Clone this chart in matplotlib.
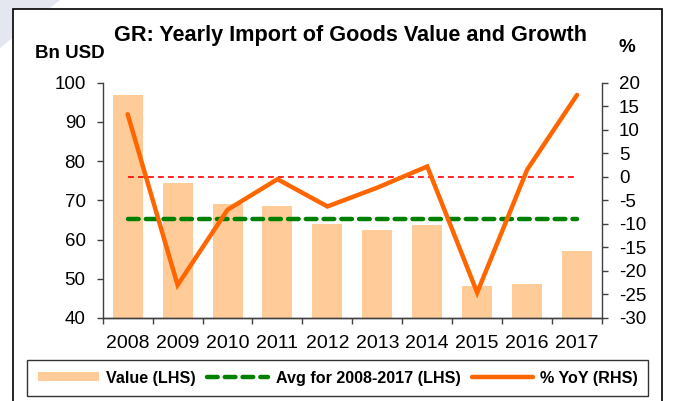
# -*- coding: utf-8 -*-

'''
GR yearly import of goods - value (LHS) and % YoY (RHS)
'''

import numpy as np
import matplotlib
matplotlib.use('Agg')
import matplotlib.pyplot as plt
from matplotlib.patches import Polygon, Rectangle

################################################################################

years = ['2008', '2009', '2010', '2011', '2012', '2013', '2014', '2015', '2016', '2017']
value_bn_usd = [96.8, 74.4, 69.0, 68.5, 64.0, 62.4, 63.7, 48.1, 48.7, 57.1]
yoy_pct = [13.3, -23.0, -7.0, -0.5, -6.3, -2.3, 2.2, -24.6, 1.5, 17.4]

lhs_ticks = [40, 50, 60, 70, 80, 90, 100]
rhs_ticks = [-30, -25, -20, -15, -10, -5, 0, 5, 10, 15, 20]

title = 'GR: Yearly Import of Goods Value and Growth'

################################################################################

plt.rcParams['font.family'] = ['Liberation Sans', 'DejaVu Sans']
plt.rcParams['axes.unicode_minus'] = False

W, H = 673, 401
fig = plt.figure(figsize=(W / 100, H / 100), dpi=100)

# faint watermark in the top left corner
fig.patches.append(Polygon([[0, 1], [60 / W, 1], [0, 1 - 48 / H]], closed=True,
                           transform=fig.transFigure, facecolor='#E4E6F0',
                           edgecolor='none', zorder=0))
# outer frame
fig.patches.append(Rectangle((13 / W, -0.05), (662 - 13) / W, 1.05 - 8.5 / H,
                             transform=fig.transFigure, facecolor='white',
                             edgecolor='black', linewidth=1.2, zorder=1))

ax = fig.add_axes([102.7 / W, 1 - 318 / H, (602 - 102.7) / W, (318 - 82.7) / H])
ax.set_zorder(2)
ax.patch.set_visible(False)
ax2 = ax.twinx()

x = np.arange(len(years))
avg = np.mean(value_bn_usd)

bars = ax.bar(x, value_bn_usd, width=0.6, color='#FFCC99', zorder=2,
              label='Value (LHS)')
avg_line, = ax.plot([x[0], x[-1]], [avg, avg], color='#008000', linewidth=3.2,
                    dashes=(2.4, 1.6), dash_capstyle='round', zorder=3,
                    label='Avg for 2008-2017 (LHS)')
ax2.plot([x[0], x[-1]], [0, 0], color='#FF0000', linewidth=1.2,
         dashes=(3.5, 2.5), zorder=3)
yoy_line, = ax2.plot(x, yoy_pct, color='#FF6600', linewidth=3.2,
                     solid_capstyle='round', solid_joinstyle='miter', zorder=4,
                     label='% YoY (RHS)')

ax.set_xlim(-0.5, len(years) - 0.5)
ax.set_ylim(40, 100)
ax2.set_ylim(-30, 20)
ax.set_yticks(lhs_ticks)
ax2.set_yticks(rhs_ticks)

ax.set_xticks(np.arange(len(years) + 1) - 0.5)
ax.set_xticklabels([])
ax.set_xticks(x, minor=True)
ax.set_xticklabels(years, minor=True)
ax.tick_params(axis='x', which='major', direction='out', length=4.3, width=1,
               color='#404040')
ax.tick_params(axis='x', which='minor', length=0, pad=12, labelsize=14)
ax.tick_params(axis='y', direction='out', length=4.3, width=1, color='#404040',
               labelsize=13.5, pad=8)
ax2.tick_params(axis='y', direction='out', length=4.3, width=1, color='#404040',
                labelsize=13.5, pad=8)

for a in (ax, ax2):
    a.spines['top'].set_visible(False)
    for s in ('left', 'right', 'bottom'):
        a.spines[s].set_color('#404040')
        a.spines[s].set_linewidth(1)
ax2.spines['left'].set_visible(False)
ax.spines['right'].set_visible(False)

fig.text(0.5 * (113 + 588) / W, 1 - 36 / H, title, ha='center', va='center',
         fontsize=15.6, fontweight='bold')
fig.text(70 / W, 1 - 54 / H, 'Bn USD', ha='center', va='center',
         fontsize=13.5, fontweight='bold')
fig.text(627 / W, 1 - 47 / H, '%', ha='center', va='center',
         fontsize=13.5, fontweight='bold')

leg = fig.legend(handles=[bars, avg_line, yoy_line], loc='center',
                 bbox_to_anchor=(0.5 * (31.7 + 644) / W, 1 - 378 / H),
                 ncol=3, frameon=True, fancybox=False, edgecolor='black',
                 handlelength=3.8, handleheight=0.5, columnspacing=0.7,
                 handletextpad=0.45, borderpad=0.65,
                 prop={'weight': 'bold', 'size': 11.6})
leg.get_frame().set_linewidth(1.0)

fig.savefig('out.png', dpi=100)
